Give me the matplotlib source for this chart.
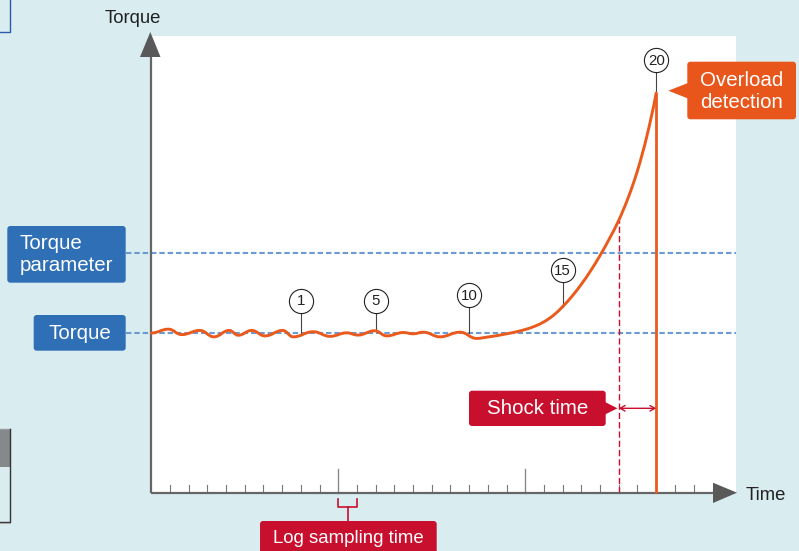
import matplotlib
matplotlib.use('Agg')
import matplotlib.pyplot as plt
from matplotlib.path import Path
from matplotlib.patches import PathPatch, Rectangle, FancyBboxPatch, Polygon

# ---------------- data ----------------
# wavy torque around the normal level: local extrema (time, torque)
wave_t = [0.0, 0.91, 1.63, 2.60, 3.35, 4.17, 4.65, 5.37, 6.08, 7.03, 7.59, 8.66,
          9.56, 10.45, 11.05, 11.95, 12.59, 13.48, 14.0, 14.55, 15.44, 16.51, 17.4]
wave_T = [100.0, 102.4, 99.0, 101.6, 97.6, 101.6, 98.6, 101.6, 98.2, 101.6, 97.6, 100.8,
          97.9, 100.1, 98.7, 101.4, 98.2, 100.3, 99.5, 100.5, 97.6, 100.5, 96.6]
# rising torque up to the overload
rise_t = [17.4, 18.0, 18.5, 19.0, 19.5, 20.0, 20.5, 21.0, 21.5, 22.0, 22.5, 23.0,
          23.5, 24.0, 24.5, 25.0, 25.5, 26.0, 26.5, 27.0]
rise_T = [96.6, 97.5, 98.4, 99.5, 100.7, 102.2, 104.2, 107.0, 111.0, 116.5, 123.0, 130.5,
          139.0, 148.5, 159.0, 170.5, 184.5, 201.5, 223.0, 250.0]

sample_labels = ['1', '5', '10', '15', '20']
sample_t = [8, 12, 17, 22, 27]
sample_T = [99.0, 101.4, 100.0, 116.5, 250.0]

torque_level = 100
torque_parameter = 150
shock_start = 25
overload_time = 27
shock_start_T = 170.5
log_interval = [10, 11]
tick_times = list(range(1, 30))
major_ticks = [10, 20]

# ---------------- style ----------------
BG = '#d9ecf0'
BLUE_BOX = '#2f6fb6'
BLUE_DASH = '#6b9bd5'
ORANGE = '#ea5a1c'
ORANGE_BOX = '#e9561b'
RED = '#c8102e'
AXIS = '#666666'
ARROW = '#595959'
FONT = 'Liberation Sans'

W, H = 799, 551
X0, SX = 151.3, 18.7      # pixel of t=0, pixels per time unit
Y0, SY = 493.0, 1.6       # pixel of T=0, pixels per torque unit

fig = plt.figure(figsize=(W / 100, H / 100), dpi=100)
fig.patch.set_facecolor(BG)

ax = fig.add_axes([0, 0, 1, 1])
ax.set_xlim((0 - X0) / SX, (W - X0) / SX)
ax.set_ylim((Y0 - H) / SY, (Y0 - 0) / SY)
ax.axis('off')
ax.patch.set_alpha(0)

ov = fig.add_axes([0, 0, 1, 1])
ov.set_xlim(0, W)
ov.set_ylim(H, 0)
ov.axis('off')
ov.patch.set_alpha(0)

# white plotting region
ax.add_patch(Rectangle((-0.07, 0), (736 - 150) / SX, (Y0 - 36) / SY,
                       fc='white', ec='none', zorder=0))

# dashed reference lines
xr = (736 - X0) / SX
for lvl in [torque_level, torque_parameter]:
    ax.plot([(126 - X0) / SX, xr], [lvl, lvl], color=BLUE_DASH, lw=1.5,
            ls=(0, (2.6, 1.4)), zorder=2, clip_on=False)

# ticks
for t in tick_times:
    h = 15 if t in major_ticks else 5
    ax.plot([t, t], [0, h], color='#8a8a8a' if t in major_ticks else '#777777',
            lw=1.0 if t in major_ticks else 0.8, zorder=3)

# axes lines
ax.plot([0, (714 - X0) / SX], [0, 0], color=AXIS, lw=1.6, zorder=4, solid_capstyle='butt')
ax.plot([0, 0], [0, (Y0 - 56) / SY], color=AXIS, lw=1.6, zorder=4, solid_capstyle='butt')
ov.add_patch(Polygon([(737, 492.7), (713, 482.7), (713, 503)], closed=True,
                     fc=ARROW, ec='none', zorder=5))
ov.add_patch(Polygon([(150.3, 32), (140, 57), (160.5, 57)], closed=True,
                     fc=ARROW, ec='none', zorder=5))

# shock-time dashed line
ax.plot([shock_start, shock_start], [0, shock_start_T], color=RED, lw=1.0,
        ls=(0, (4.5, 2.2)), zorder=3)

# torque curve: smooth waves (horizontal tangents at extrema) + smooth rising part
verts = [(wave_t[0], wave_T[0])]
codes = [Path.MOVETO]
for i in range(1, len(wave_t)):
    x0, y0 = wave_t[i - 1], wave_T[i - 1]
    x1, y1 = wave_t[i], wave_T[i]
    dx = x1 - x0
    verts += [(x0 + 0.42 * dx, y0), (x1 - 0.42 * dx, y1), (x1, y1)]
    codes += [Path.CURVE4] * 3
n = len(rise_t)
slopes = []
for i in range(n):
    if i == 0:
        slopes.append(0.0)
    elif i == n - 1:
        slopes.append((rise_T[i] - rise_T[i - 1]) / (rise_t[i] - rise_t[i - 1]) * 1.15)
    else:
        slopes.append((rise_T[i + 1] - rise_T[i - 1]) / (rise_t[i + 1] - rise_t[i - 1]))
for i in range(1, n):
    x0, y0, m0 = rise_t[i - 1], rise_T[i - 1], slopes[i - 1]
    x1, y1, m1 = rise_t[i], rise_T[i], slopes[i]
    d = (x1 - x0) / 3
    verts += [(x0 + d, y0 + m0 * d), (x1 - d, y1 - m1 * d), (x1, y1)]
    codes += [Path.CURVE4] * 3
ax.add_patch(PathPatch(Path(verts, codes), fill=False, ec=ORANGE, lw=2.1,
                       joinstyle='round', capstyle='round', zorder=6))
# overload vertical line
ax.plot([overload_time, overload_time], [0, rise_T[-1]], color=ORANGE, lw=2.0,
        zorder=6, solid_capstyle='butt')

# sample markers
LABEL_T = [120.2, 120.2, 123.8, 139.4, 270.6]
R = 12 / SY
for lab, t, v, c in zip(sample_labels, sample_t, sample_T, LABEL_T):
    ax.plot([t, t], [c - R, v], color='#444444', lw=0.8, zorder=5)
    ax.plot([t], [c], marker='o', ms=17.4, mfc='white', mec='#222222', mew=0.8,
            zorder=7)
    ax.text(t, c - 0.4, lab, ha='center', va='center', fontsize=10.8, color='#222222',
            family=FONT, zorder=8)

# shock time double arrow
yT = (Y0 - 408.3) / SY
ax.annotate('', xy=(overload_time, yT), xytext=(shock_start, yT),
            arrowprops=dict(arrowstyle='<->,head_length=0.35,head_width=0.2',
                            color=RED, lw=1.0, shrinkA=0, shrinkB=0), zorder=6)

# log sampling bracket
b1 = (Y0 - 499) / SY
b2 = (Y0 - 507) / SY
b3 = (Y0 - 521) / SY
ax.plot([log_interval[0], log_interval[0], log_interval[1], log_interval[1]],
        [b1, b2, b2, b1], color=RED, lw=1.2, clip_on=False, zorder=5)
mid = (log_interval[0] + log_interval[1]) / 2
ax.plot([mid, mid], [b2, b3], color=RED, lw=1.2, clip_on=False, zorder=5)


# ---------------- labels / callouts (pixel overlay) ----------------
def box(x0, y0, x1, y1, color):
    ov.add_patch(FancyBboxPatch((x0, y0), x1 - x0, y1 - y0,
                                boxstyle='round,pad=0,rounding_size=3',
                                fc=color, ec='none', zorder=6))


# Torque parameter
box(7.3, 226, 125.7, 282.7, BLUE_BOX)
ov.text(19.5, 243.5, 'Torque', ha='left', va='center', fontsize=14.8, color='white',
        family=FONT, zorder=7)
ov.text(19.5, 265.5, 'parameter', ha='left', va='center', fontsize=14.8, color='white',
        family=FONT, zorder=7)
# Torque
box(33.7, 315, 125.7, 350.7, BLUE_BOX)
ov.text(79.7, 333.5, 'Torque', ha='center', va='center', fontsize=14.8, color='white',
        family=FONT, zorder=7)

# Overload detection
box(687.3, 61.7, 796, 119.3, ORANGE_BOX)
ov.add_patch(Polygon([(688, 83), (668.3, 90.7), (688, 98.5)], closed=True,
                     fc=ORANGE_BOX, ec='none', zorder=6))
ov.text(741.6, 80.5, 'Overload', ha='center', va='center', fontsize=14.8, color='white',
        family=FONT, zorder=7)
ov.text(741.6, 102, 'detection', ha='center', va='center', fontsize=14.8, color='white',
        family=FONT, zorder=7)

# Shock time
box(469, 390.7, 605.7, 426, RED)
ov.add_patch(Polygon([(605, 402), (617.5, 408.3), (605, 414.5)], closed=True,
                     fc=RED, ec='none', zorder=6))
ov.text(537.3, 409, 'Shock time', ha='center', va='center', fontsize=14.8, color='white',
        family=FONT, zorder=7)

# Log sampling time
box(260, 521, 436.7, 560, RED)
ov.text(348.3, 538.5, 'Log sampling time', ha='center', va='center', fontsize=13.4,
        color='white', family=FONT, zorder=7)

# axis titles
ov.text(133, 18.5, 'Torque', ha='center', va='center', fontsize=13.3, color='#222222',
        family=FONT)
ov.text(746, 495.5, 'Time', ha='left', va='center', fontsize=13.3, color='#222222',
        family=FONT)

# cropped fragments at the left edge of the source picture
ov.plot([9.5, 9.5, 0], [0, 32, 32], color='#2a5aa8', lw=1.0)
ov.add_patch(Rectangle((0, 429.3), 9.5, 37.5, fc='#85898c', ec='none'))
ov.plot([0, 9.5], [429.3, 429.3], color='#9a9a9a', lw=1.0)
ov.plot([9.5, 9.5, 0], [429.3, 521.5, 521.5], color='#333333', lw=1.0)
ov.plot([0, 9.8], [522.8, 522.8], color='#aaaaaa', lw=0.8)

fig.savefig('out.png', dpi=100, facecolor=BG)
